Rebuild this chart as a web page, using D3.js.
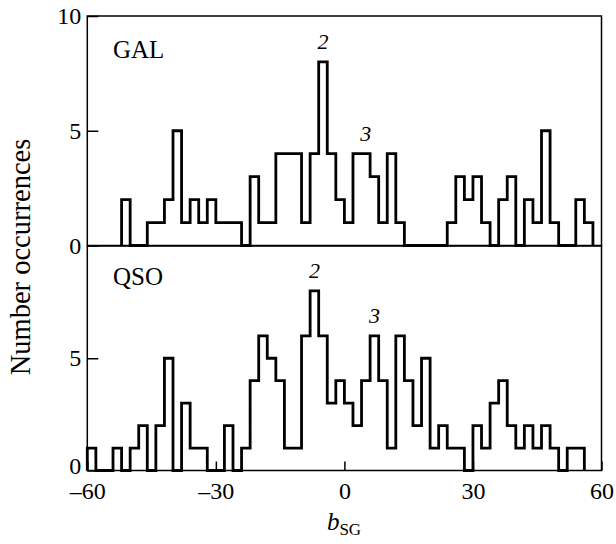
<!DOCTYPE html>
<html>
<head>
<meta charset="utf-8">
<script src="https://cdn.jsdelivr.net/npm/d3@7"></script>
<style>
  html, body { margin: 0; padding: 0; background: #fff; }
  svg { display: block; }
  text { font-family: "Liberation Serif", "Times New Roman", serif; fill: #000; }
</style>
</head>
<body>
<svg id="chart" width="616" height="544"></svg>
<script>
// Galactic latitude bins (lower edges, degrees), 2-degree wide
const binStarts = d3.range(-60, 60, 2);
const binWidth = 2;

// Counts per bin, galaxies
const galCounts = [0,0,0,0,2,0,0,1,1,2, 5,1,2,1,2,1,1,1,0,3,
                   1,1,4,4,4,1,4,8,4,2, 1,4,4,3,1,4,1,0,0,0,
                   0,0,1,3,2,3,1,0,2,3, 0,2,1,5,1,0,0,2,1,0];

// Counts per bin, quasars
const qsoCounts = [1,0,0,1,0,1,2,0,2,5, 0,3,1,1,0,0,2,0,1,4,
                   6,5,4,1,1,6,8,6,3,4, 3,2,4,6,4,1,6,4,2,5,
                   1,2,1,1,0,2,1,3,4,2, 1,2,1,2,1,0,1,1,0,0];

const xTicks = [-60, -30, 0, 30, 60];
const yTicksTop = [0, 5, 10];
const yTicksBottom = [0, 5];

// Peak annotations: [bin start, count, label]
const galPeaks = [[-6, 8, "2"], [4, 4, "3"]];
const qsoPeaks = [[-8, 8, "2"], [6, 6, "3"]];

const svg = d3.select("#chart");
const left = 87.3, right = 601.5;
const x = d3.scaleLinear().domain([-60, 60]).range([left, right]);
const yTop = d3.scaleLinear().domain([0, 10]).range([245.5, 16]);
const yBot = d3.scaleLinear().domain([0, 10]).range([470.5, 246]);

const fmt = v => (v < 0 ? "\u2013" + Math.abs(v) : String(v));

function stepPoints(counts) {
  const nz = counts.map((c, i) => c > 0 ? i : -1).filter(i => i >= 0);
  const first = nz[0], last = nz[nz.length - 1];
  const pts = [[binStarts[first], 0]];
  for (let i = first; i <= last; i++) pts.push([binStarts[i], counts[i]]);
  pts.push([binStarts[last] + binWidth, counts[last]]);
  pts.push([binStarts[last] + binWidth, 0]);
  return pts;
}

function panel(counts, y, yTicks, name, nameY, peaks, zeroShift) {
  const g = svg.append("g");
  const line = d3.line()
    .x(d => x(d[0]))
    .y(d => y(d[1]))
    .curve(d3.curveStepAfter);

  g.append("path")
    .attr("d", line(stepPoints(counts)))
    .attr("fill", "none")
    .attr("stroke", "#000")
    .attr("stroke-width", 2.8)
    .attr("stroke-linejoin", "miter");

  // frame
  g.append("rect")
    .attr("x", left).attr("y", y(10))
    .attr("width", right - left).attr("height", y(0) - y(10))
    .attr("fill", "none").attr("stroke", "#000").attr("stroke-width", 1.5);

  const ax = g.append("g")
    .attr("transform", `translate(${left},0)`)
    .call(d3.axisLeft(y).tickValues(yTicks).tickSizeInner(-11).tickSizeOuter(0).tickPadding(6).tickFormat(d3.format("d")));
  ax.select(".domain").remove();
  ax.selectAll(".tick line").attr("stroke", "#000").attr("stroke-width", 1.5);
  ax.selectAll(".tick text")
    .attr("font-size", 24).attr("font-family", "Liberation Serif").attr("fill", "#000")
    .attr("y", d => d === 0 ? zeroShift : 0);

  g.append("text")
    .attr("x", 113).attr("y", nameY)
    .attr("font-size", 25)
    .text(name);

  peaks.forEach(([b, c, lab]) => {
    g.append("text")
      .attr("x", x(b + binWidth / 2))
      .attr("y", y(c) - 13)
      .attr("text-anchor", "middle")
      .attr("font-size", 22)
      .attr("font-style", "italic")
      .text(lab);
  });
}

panel(galCounts, yTop, yTicksTop, "GAL", 58, galPeaks, 0);
panel(qsoCounts, yBot, yTicksBottom, "QSO", 285, qsoPeaks, -5);

// bottom axis with inward ticks
const xa = svg.append("g")
  .attr("transform", `translate(0,${yBot(0)})`)
  .call(d3.axisBottom(x).tickValues(xTicks).tickSizeInner(-9).tickSizeOuter(0).tickPadding(11).tickFormat(fmt));
xa.select(".domain").remove();
xa.selectAll(".tick line").attr("stroke", "#000").attr("stroke-width", 1.5);
xa.selectAll(".tick text").attr("font-size", 24).attr("font-family", "Liberation Serif").attr("fill", "#000");

// axis titles
const xt = svg.append("text")
  .attr("x", 344).attr("y", 530)
  .attr("text-anchor", "middle")
  .attr("font-size", 25);
xt.append("tspan").attr("font-style", "italic").text("b");
xt.append("tspan").attr("font-size", 17).attr("dy", 5).text("SG");

svg.append("text")
  .attr("transform", "translate(30,257) rotate(-90)")
  .attr("text-anchor", "middle")
  .attr("font-size", 28.5)
  .text("Number occurrences");
</script>
</body>
</html>
